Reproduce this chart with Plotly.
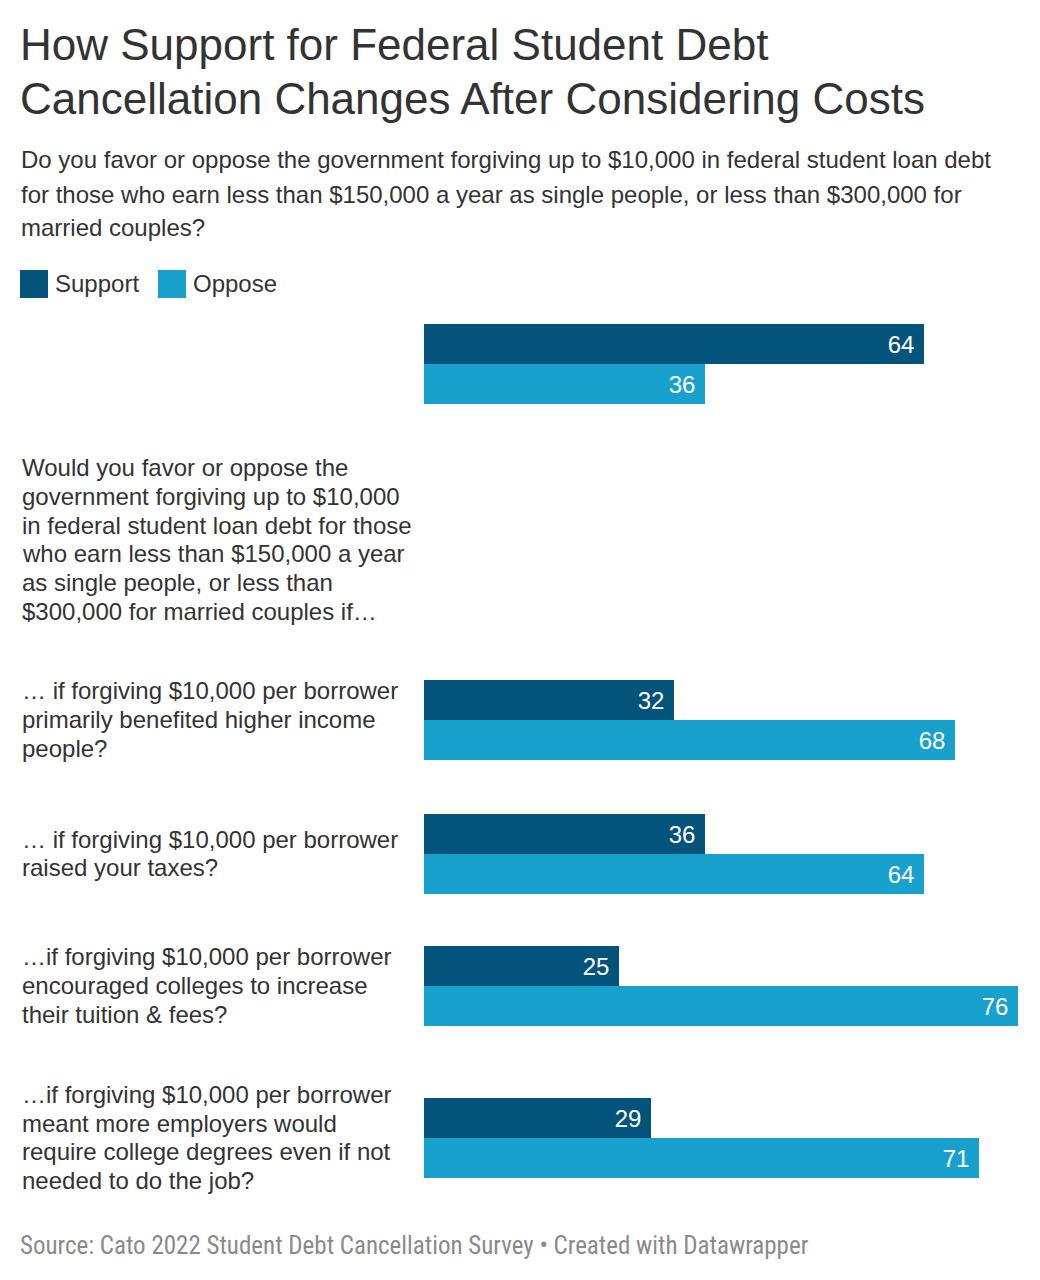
import plotly.graph_objects as go

# ---------------- data ----------------
categories = [
    "",
    "Would you favor or oppose the<br>government forgiving up to $10,000<br>in federal student loan debt for those<br>who earn less than $150,000 a year<br>as single people, or less than<br>$300,000 for married couples if…",
    "… if forgiving $10,000 per borrower<br>primarily benefited higher income<br>people?",
    "… if forgiving $10,000 per borrower<br>raised your taxes?",
    "…if forgiving $10,000 per borrower<br>encouraged colleges to increase<br>their tuition & fees?",
    "…if forgiving $10,000 per borrower<br>meant more employers would<br>require college degrees even if not<br>needed to do the job?",
]
support = [64, None, 32, 36, 25, 29]
oppose = [36, None, 68, 64, 76, 71]
series_names = ["Support", "Oppose"]

title_lines = ["How Support for Federal Student Debt",
               "Cancellation Changes After Considering Costs"]
subtitle_lines = [
    "Do you favor or oppose the government forgiving up to $10,000 in federal student loan debt",
    "for those who earn less than $150,000 a year as single people, or less than $300,000 for",
    "married couples?",
]
footer = "Source: Cato 2022 Student Debt Cancellation Survey • Created with Datawrapper"

# ---------------- layout / style ----------------
PAGE_MARGIN = 8          # browser default body margin
W, H = 1040 - PAGE_MARGIN, 1280 - PAGE_MARGIN
FONT = "Liberation Sans, Arial, sans-serif"
C_SUP = "#03537b"
C_OPP = "#18a1cd"
TXT = "#333333"
row_centers_px = [364, 540, 720, 854, 986, 1138]
bar_block_px = 80
x_left_px, x_right_px = 424, 1018
label_line_px = 28.8

def py(p):
    return 1 - (p - PAGE_MARGIN) / H

def px(p):
    return (p - PAGE_MARGIN) / W

fig = go.Figure()
layout_axes = {}
xmax = max(v for v in support + oppose if v is not None)
k = 0
for i, cat in enumerate(categories):
    if support[i] is None and oppose[i] is None:
        continue
    k += 1
    suffix = "" if k == 1 else str(k)
    c = row_centers_px[i]
    ydom = [py(c + bar_block_px / 2), py(c - bar_block_px / 2)]
    for name, vals, col in [(series_names[0], support, C_SUP), (series_names[1], oppose, C_OPP)]:
        fig.add_trace(go.Bar(
            x=[vals[i]], y=[str(i)], orientation="h", name=name,
            marker=dict(color=col, line=dict(width=0)),
            text=[vals[i]], texttemplate="%{x}\u00a0", textposition="inside",
            insidetextanchor="end",
            textfont=dict(color="white", size=24, family=FONT),
            xaxis="x" + suffix, yaxis="y" + suffix, showlegend=False,
            hoverinfo="skip",
        ))
    layout_axes["xaxis" + suffix] = dict(domain=[px(x_left_px), px(x_right_px)],
                                         range=[0, xmax], visible=False,
                                         anchor="y" + suffix, fixedrange=True)
    layout_axes["yaxis" + suffix] = dict(domain=ydom, type="category",
                                         range=[0.5, -0.5], visible=False,
                                         anchor="x" + suffix, fixedrange=True)

annotations = []
def text(x, y, s, size, color=TXT, family=FONT):
    annotations.append(dict(x=px(x), y=py(y), xref="paper", yref="paper",
                            text=s, showarrow=False, xanchor="left", yanchor="middle",
                            align="left", font=dict(size=size, color=color, family=family)))

for j, ln in enumerate(title_lines):
    text(18, 45 + j * 53, ln, 44)
for j, ln in enumerate(subtitle_lines):
    text(19, 160 + j * 34, ln, 24)
for i, cat in enumerate(categories):
    if cat:
        lines = cat.split("<br>")
        n = len(lines)
        for j, ln in enumerate(lines):
            text(20, row_centers_px[i] - 0.5 + (j - (n - 1) / 2) * label_line_px, ln, 24)

# legend
shapes = []
for (x0, name, col) in [(20, series_names[0], C_SUP), (158, series_names[1], C_OPP)]:
    shapes.append(dict(type="rect", xref="paper", yref="paper",
                       x0=px(x0), x1=px(x0 + 28), y0=py(298), y1=py(270),
                       fillcolor=col, line=dict(width=0)))
    text(x0 + 33, 283, name, 24)

text(18, 1245, footer, 25, color="#8a8a8a",
     family="Liberation Sans Narrow, Roboto Condensed, Liberation Sans, Arial, sans-serif")

fig.update_layout(
    width=W, height=H, margin=dict(l=0, r=0, t=0, b=0),
    paper_bgcolor="white", plot_bgcolor="white",
    barmode="group", bargap=0, bargroupgap=0,
    annotations=annotations, shapes=shapes, showlegend=False,
    font=dict(family=FONT, color=TXT),
    **layout_axes,
)
fig.write_html("out.html")
